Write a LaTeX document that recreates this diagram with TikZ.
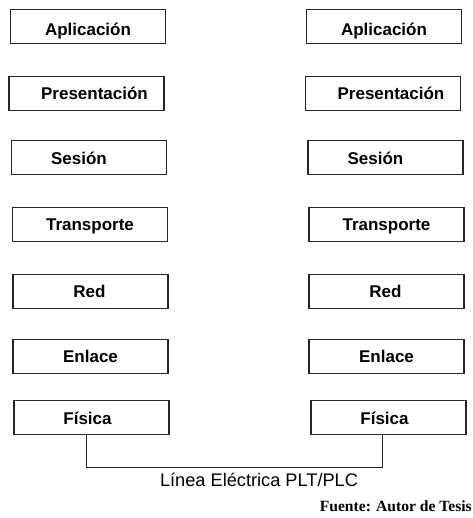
\documentclass[tikz,border=0pt]{standalone}
\usepackage{fontspec}
\setmainfont{Liberation Sans}
\newfontfamily\srcfont{Liberation Serif}
\usetikzlibrary{calc}
\begin{document}
\begin{tikzpicture}[x=1pt,y=-1pt,
  layerbox/.style={draw=black!85,line width=1.1pt,minimum width=155pt,minimum height=34pt,inner sep=0pt},
  layertext/.style={font=\fontsize{17}{17}\selectfont\bfseries,inner sep=0pt,anchor=base},
  wire/.style={draw=black!85,line width=0.9pt}]
\useasboundingbox (0,0) rectangle (472,518);

% left stack
\node[layerbox] (la) at (88,26.5) {};
\node[layerbox] (lp) at (86.5,93.5) {};
\node[layerbox] (ls) at (89,157.5) {};
\node[layerbox] (lt) at (90,224.5) {};
\node[layerbox] (lr) at (90.5,291.5) {};
\node[layerbox] (le) at (90.5,356.5) {};
\node[layerbox] (lf) at (91.5,417.5) {};

% right stack
\node[layerbox] (ra) at (384,26.5) {};
\node[layerbox] (rp) at (383,93.5) {};
\node[layerbox] (rs) at (385.5,157.5) {};
\node[layerbox] (rt) at (386.5,224.5) {};
\node[layerbox] (rr) at (386.5,291.5) {};
\node[layerbox] (re) at (386.5,356.5) {};
\node[layerbox] (rf) at (388.5,417.5) {};

% layer names
\foreach \s in {l,r}{
  \node[layertext] (\s atx) at ($(\s a)+(0,9)$) {Aplicación};
  \node[layertext] (\s ptx) at ($(\s p)+(8,6)$) {Presentación};
  \node[layertext] (\s stx) at ($(\s s)+(-10,7)$) {Sesión};
  \node[layertext] (\s ttx) at ($(\s t)+(0,6)$) {Transporte};
  \node[layertext] (\s rtx) at ($(\s r)+(-1,6)$) {Red};
  \node[layertext] (\s etx) at ($(\s e)+(0,6)$) {Enlace};
  \node[layertext] (\s ftx) at ($(\s f)+(-4,7)$) {Física};
}

% power line linking both physical layers
\coordinate (pl) at ($(lf.south)+(-5.5,0)$);
\coordinate (pr) at ($(rf.south)+(-6.5,0)$);
\draw[wire] (pl) -- ++(0,32) -| (pr);

\node[font=\fontsize{18.2}{18.2}\selectfont,anchor=base,inner sep=0pt] (line) at (259,486) {Línea Eléctrica PLT/PLC};
\node[font=\srcfont\fontsize{15.6}{15.6}\selectfont\bfseries,anchor=base east,inner sep=0pt] (src) at (472,511) {Fuente: Autor de Tesis};
\end{tikzpicture}
\end{document}
